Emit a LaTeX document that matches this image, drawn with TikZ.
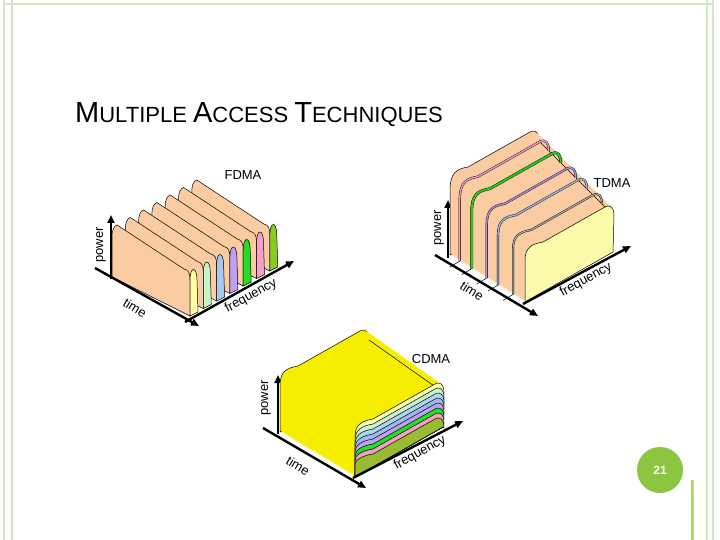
\documentclass[tikz,border=0pt]{standalone}
\usepackage{fontspec}
\setmainfont{Liberation Sans}
\usetikzlibrary{arrows.meta}
\definecolor{salmon}{HTML}{FBCBA2}
\definecolor{paleyel}{HTML}{FAFAAA}
\definecolor{cyel}{HTML}{F5EE00}
\definecolor{slidegreen}{HTML}{D2E8C4}
\definecolor{numgreen}{HTML}{8CC640}
\tikzstyle{axis}=[line width=2.4pt, -{Triangle[length=8pt,width=7pt]}]
\tikzstyle{lbl}=[font=\fontsize{13}{15}\selectfont, inner sep=0pt]
\tikzstyle{edge}=[draw=black, line width=0.5pt]
\newcommand{\faceshape}[1]{(0,0) -- (0,{-0.8*(#1)}) .. controls (0,{-(#1)-2}) and (6,{-(#1)-6}) .. (18,{-(#1)-8}) -- (80,{-(#1)-43}) .. controls (86,{-(#1)-46}) and (89,{-(#1)-42}) .. (89,{-(#1)-34}) -- (88,-50) -- cycle}
\newcommand{\profileline}[1]{(0,0) -- (0,{-0.8*(#1)}) .. controls (0,{-(#1)-2}) and (6,{-(#1)-6}) .. (18,{-(#1)-8}) -- (80,{-(#1)-43}) .. controls (86,{-(#1)-46}) and (89,{-(#1)-42}) .. (89,{-(#1)-34})}
\newcommand{\slabside}{(0,0) -- (0,-36) .. controls (0,-44) and (-2,-46) .. (-6,-47) -- (-73,-91) .. controls (-76,-90) and (-78,-86) .. (-78,-80) -- (-78,-39) -- cycle}
\newcommand{\slabfront}{(0,0) -- (0,-36) .. controls (0,-50) and (7,-50) .. (7,-36) -- (8,-4) -- cycle}

\begin{document}
\begin{tikzpicture}[x=1pt, y=-1pt]
\useasboundingbox (0,0) rectangle (720,540);
\fill[white] (0,0) rectangle (720,540);
% slide frame
\draw[slidegreen, line width=1.2pt] (4,0) -- (4,540) (12,0) -- (12,540);
\draw[slidegreen, line width=1.2pt] (707,0) -- (707,540) (713,0) -- (713,540);
\draw[slidegreen, line width=1.2pt] (4,4) -- (713,4);
\draw[numgreen!70, line width=3pt] (692,480) -- (692,540);
\node[anchor=west, inner sep=0pt] (title) at (75,115)
  {\fontsize{29}{32}\selectfont M\fontsize{22}{26}\selectfont ULTIPLE \fontsize{29}{32}\selectfont A\fontsize{22}{26}\selectfont CCESS \fontsize{29}{32}\selectfont T\fontsize{22}{26}\selectfont ECHNIQUES};

% FDMA
\coordinate (fpb) at (111,279); \coordinate (fpt) at (111,215);
\coordinate (ftb) at (95,268);  \coordinate (ftt) at (199,326);
\coordinate (ffb) at (185,322); \coordinate (fft) at (294,261);
\draw[axis] (fpb) -- (fpt);
\foreach \k/\c in {6/88CC22, 5/F5A0C8, 4/22DD22, 3/C0A0F0, 2/A8C8F0, 1/C8F5C8, 0/FFFFA0} {
  \definecolor{slab}{HTML}{\c}
  \begin{scope}[shift={({190+13.3*\k},{316-7.5*\k})}]
    \filldraw[fill=salmon, edge] \slabside;
    \filldraw[fill=slab, edge] \slabfront;
  \end{scope}
}
\draw[axis] (ftb) -- (ftt);
\draw[axis] (ffb) -- (fft);
\node[lbl] (fname) at (243,175) {FDMA};
\node[lbl, rotate=90] (fpow) at (101,245) {power};
\node[lbl, rotate=-32] (ftime) at (135,308) {time};
\node[lbl, rotate=29] (ffreq) at (251,296) {frequency};

% TDMA
\coordinate (tpb) at (448,258); \coordinate (tpt) at (448,200);
\coordinate (ttb) at (435,255); \coordinate (ttt) at (538,316);
\coordinate (tfb) at (523,304); \coordinate (tft) at (631,246);
\draw[axis] (tpb) -- (tpt);
\begin{scope}[shift={(525,302)}]
  \filldraw[fill=salmon, edge, shift={(-75,-47)}] \faceshape{80};
  \foreach \s in {39,...,0}
    \fill[salmon, shift={({-75*\s/40},{-47*\s/40})}] \faceshape{52+28*\s/40};
  \draw[edge] (-75+89,-47-114) -- (89,-86);
  \foreach \f/\c/\w in {0.16/AAAAAA/1.2, 0.36/9FB8E8/1.4, 0.51/B090E0/1.4, 0.71/22CC22/2, 0.87/F0A0C8/1.4} {
    \definecolor{slot}{HTML}{\c}
    \begin{scope}[shift={({-75*\f},{-47*\f})}]
      \draw[black, line width=\w pt+0.8pt] \profileline{52+28*\f};
      \draw[slot, line width=\w pt] \profileline{52+28*\f};
      \draw[edge] (0,0) -- (-10,6);
    \end{scope}
  }
  \filldraw[fill=paleyel, edge] \faceshape{52};
\end{scope}
\draw[axis] (ttb) -- (ttt);
\draw[axis] (tfb) -- (tft);
\node[lbl] (tname) at (612,183) {TDMA};
\node[lbl, rotate=90] (tpow) at (439,228) {power};
\node[lbl, rotate=-32] (ttime) at (472,291) {time};
\node[lbl, rotate=29] (tfreq) at (586,280) {frequency};

% CDMA
\coordinate (cpb) at (278,434); \coordinate (cpt) at (278,375);
\coordinate (ctb) at (263,428); \coordinate (ctt) at (366,488);
\coordinate (cfb) at (353,478); \coordinate (cft) at (463,421);
\draw[axis] (cpb) -- (cpt);
\begin{scope}[shift={(355,477)}]
  \filldraw[fill=cyel, edge, shift={(-75,-45)}] \faceshape{58};
  \foreach \s in {39,...,0}
    \fill[cyel, shift={({-75*\s/40},{-45*\s/40})}] \faceshape{50+8*\s/40};
  \draw[edge] (-75+89,-45-92) -- (89,-84);
  \foreach \h/\c in {50/FFFFB0, 45/C8F5C8, 40/B0D4F0, 35/9FB8F0, 30/C0A0F0, 25/22E022, 20/F5A0C0, 15/99BB33} {
    \definecolor{layer}{HTML}{\c}
    \filldraw[fill=layer, edge] \faceshape{\h};
  }
\end{scope}
\draw[axis] (ctb) -- (ctt);
\draw[axis] (cfb) -- (cft);
\node[lbl] (cname) at (431,359) {CDMA};
\node[lbl, rotate=90] (cpow) at (266,398) {power};
\node[lbl, rotate=-32] (ctime) at (298,466) {time};
\node[lbl, rotate=29] (cfreq) at (420,453) {frequency};

% page number
\node[circle, fill=numgreen, minimum size=46pt, text=white, font=\bfseries\fontsize{12}{14}\selectfont] (pnum) at (660,470) {21};
\end{tikzpicture}
\end{document}
